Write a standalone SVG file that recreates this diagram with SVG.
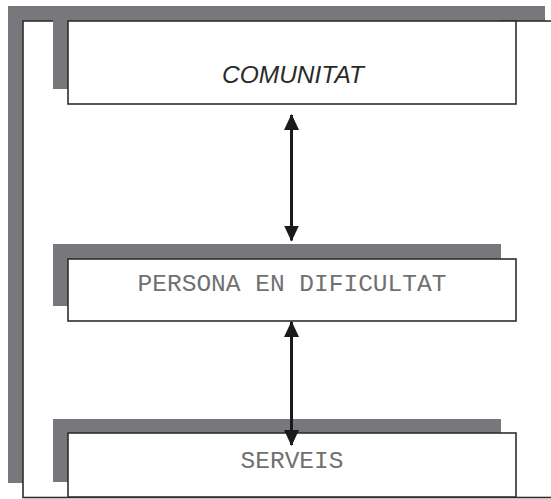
<svg xmlns="http://www.w3.org/2000/svg" width="551" height="499" viewBox="0 0 551 499">
  <style>
    .shadow { fill: #77787b; }
    .box { fill: #ffffff; stroke: #2f2f2f; stroke-width: 1.6; }
    .frame { fill: #ffffff; stroke: #2f2f2f; stroke-width: 1.6; }
    .label-sans { font-family: "Liberation Sans", Arial, sans-serif; font-style: italic; font-size: 24.5px; fill: #2a2a2a; text-anchor: middle; }
    .label-mono { font-family: "Liberation Mono", "Courier New", monospace; font-size: 24.5px; fill: #707070; text-anchor: middle; }
    .link { stroke: #1a1a1a; stroke-width: 3; fill: none; }
  </style>
  <defs>
    <marker id="head" viewBox="0 0 16 16" refX="15" refY="8" markerWidth="16" markerHeight="16" markerUnits="userSpaceOnUse" orient="auto-start-reverse">
      <path d="M0,0.5 L16,8 L0,15.5 Z" fill="#1a1a1a"/>
    </marker>
  </defs>

  <rect width="551" height="499" fill="#ffffff"/>

  <!-- outer frame with offset shadow -->
  <g id="frame">
    <rect class="shadow" x="8" y="6" width="537" height="477"/>
    <rect class="frame" x="23" y="21" width="540" height="476.5"/>
  </g>

  <g id="comunitat">
    <rect class="shadow" x="53" y="6" width="448" height="83"/>
    <rect class="box" x="68" y="21" width="448" height="83"/>
    <text class="label-sans" x="293" y="83">COMUNITAT</text>
  </g>

  <g id="persona">
    <rect class="shadow" x="53" y="244" width="448" height="62"/>
    <rect class="box" x="68" y="259" width="448" height="62"/>
    <text class="label-mono" x="292" y="291">PERSONA EN DIFICULTAT</text>
  </g>

  <g id="serveis">
    <rect class="shadow" x="53" y="419" width="448" height="63"/>
    <rect class="box" x="68" y="433" width="448" height="64"/>
    <text class="label-mono" x="292" y="468">SERVEIS</text>
  </g>

  <g id="connectors">
    <line class="link" x1="291.5" y1="115" x2="291.5" y2="240.5" marker-start="url(#head)" marker-end="url(#head)"/>
    <line class="link" x1="291.5" y1="322" x2="291.5" y2="445" marker-start="url(#head)" marker-end="url(#head)"/>
  </g>
</svg>
